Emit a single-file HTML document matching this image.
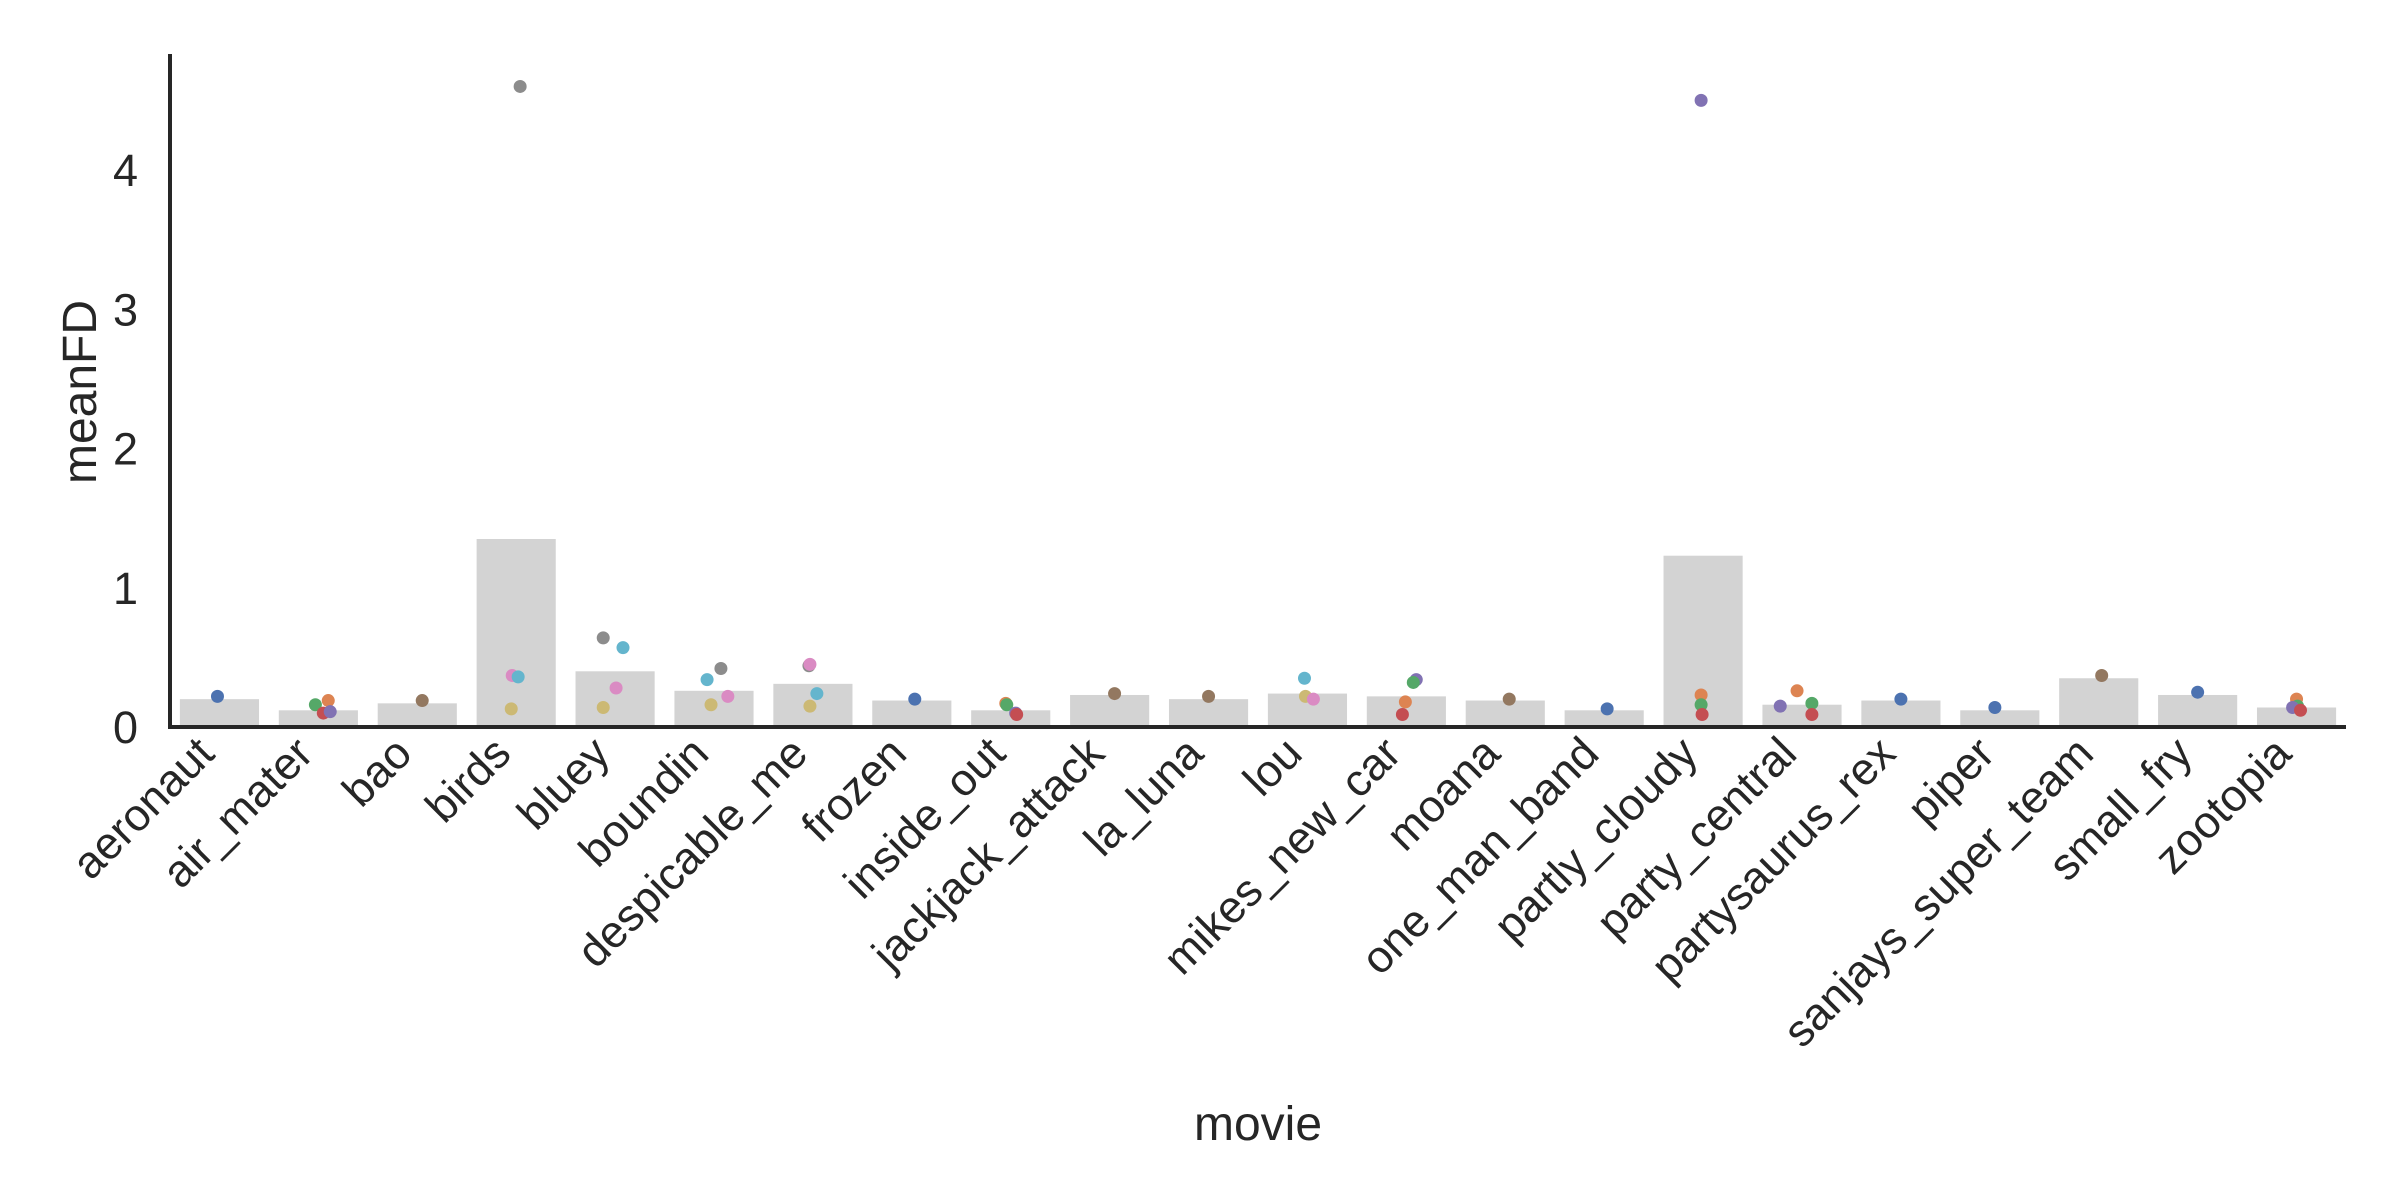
<!DOCTYPE html>
<html><head><meta charset="utf-8"><style>
html,body{margin:0;padding:0;background:#fff;}
svg{display:block;font-family:"Liberation Sans","DejaVu Sans",sans-serif;}
</style></head><body>
<svg id="chart" width="2400" height="1200" viewBox="0 0 2400 1200" xmlns="http://www.w3.org/2000/svg"></svg>
<script>
const categories=["aeronaut","air_mater","bao","birds","bluey","boundin","despicable_me","frozen","inside_out","jackjack_attack","la_luna","lou","mikes_new_car","moana","one_man_band","partly_cloudy","party_central","partysaurus_rex","piper","sanjays_super_team","small_fry","zootopia"];
const barValues=[0.20,0.12,0.17,1.35,0.40,0.26,0.31,0.19,0.12,0.23,0.20,0.24,0.22,0.19,0.12,1.23,0.16,0.19,0.12,0.35,0.23,0.14];
const pointMovie=[0,1,1,1,1,2,3,3,3,3,4,4,4,4,5,5,5,5,6,6,6,6,7,8,8,8,8,9,10,11,11,11,12,12,12,12,13,14,15,15,15,15,16,16,16,16,17,18,19,20,21,21,21,21];
const pointValues=[0.22,0.19,0.16,0.10,0.11,0.19,4.60,0.37,0.36,0.13,0.64,0.57,0.28,0.14,0.42,0.34,0.22,0.16,0.44,0.45,0.24,0.15,0.20,0.17,0.16,0.10,0.09,0.24,0.22,0.35,0.22,0.20,0.34,0.32,0.18,0.09,0.20,0.13,4.50,0.23,0.16,0.09,0.26,0.15,0.17,0.09,0.20,0.14,0.37,0.25,0.20,0.15,0.14,0.12];
const pointColor=["#4c72b0","#dd8452","#55a868","#c44e52","#8172b3","#937860","#8c8c8c","#da8bc3","#64b5cd","#ccb974","#8c8c8c","#64b5cd","#da8bc3","#ccb974","#8c8c8c","#64b5cd","#da8bc3","#ccb974","#8c8c8c","#da8bc3","#64b5cd","#ccb974","#4c72b0","#dd8452","#55a868","#8172b3","#c44e52","#937860","#937860","#64b5cd","#ccb974","#da8bc3","#8172b3","#55a868","#dd8452","#c44e52","#937860","#4c72b0","#8172b3","#dd8452","#55a868","#c44e52","#dd8452","#8172b3","#55a868","#c44e52","#4c72b0","#4c72b0","#937860","#4c72b0","#dd8452","#55a868","#8172b3","#c44e52"];
const pointJitter=[-0.02,0.1,-0.03,0.05,0.12,0.05,0.04,-0.04,0.02,-0.05,-0.12,0.08,0.01,-0.12,0.07,-0.07,0.14,-0.03,-0.04,-0.03,0.04,-0.03,0.03,-0.05,-0.04,0.05,0.06,0.05,0.0,-0.03,-0.02,0.06,0.1,0.07,-0.01,-0.04,0.04,0.03,-0.02,-0.02,-0.02,-0.01,-0.05,-0.22,0.1,0.1,0.0,-0.05,0.03,0.0,0.0,0.01,-0.04,0.04];
const yTicks=[0,1,2,3,4];

const svg=document.getElementById('chart');
const NS='http://www.w3.org/2000/svg';
const L=170,R=2346,B=727,T=54,unit=139.25;
const step=(R-L)/categories.length;
function xScale(i){return L+step*(i+0.5);}
function yScale(v){return B-v*unit;}
function mk(tag,attrs,parent){const e=document.createElementNS(NS,tag);for(const k in attrs)e.setAttribute(k,attrs[k]);(parent||svg).appendChild(e);return e;}

const gBars=mk('g',{});


barValues.forEach((v,i)=>{
  const r=mk('rect',{x:xScale(i)-step*0.4,y:yScale(v),width:step*0.8,height:B-yScale(v),fill:'#d3d3d3'},gBars);
  
  
});
const gPts=mk('g',{});


pointValues.forEach((v,i)=>{
  const c=mk('circle',{cx:xScale(pointMovie[i]+pointJitter[i]),cy:yScale(v),r:6.5,fill:pointColor[i]},gPts);
  
  
});
const ya=mk('line',{x1:L,y1:T,x2:L,y2:B+2,stroke:'#262626','stroke-width':4});


const xa=mk('line',{x1:L-2,y1:B,x2:R,y2:B,stroke:'#262626','stroke-width':4});


yTicks.forEach(t=>{
  const tx=mk('text',{x:138,y:yScale(t)+16,'text-anchor':'end','font-size':45,fill:'#262626'});
  tx.textContent=String(t);
  
  
});
categories.forEach((c,i)=>{
  const x=xScale(i)-3,y=756;
  const tx=mk('text',{x:x,y:y,'text-anchor':'end','font-size':45,fill:'#262626',transform:`rotate(-45 ${x} ${y})`});
  tx.textContent=c;
  
  
});
const xt=mk('text',{x:1258,y:1140,'text-anchor':'middle','font-size':48,fill:'#262626'});
xt.textContent='movie';


const yt=mk('text',{x:96,y:392,'text-anchor':'middle','font-size':48,fill:'#262626',transform:'rotate(-90 96 392)'});
yt.textContent='meanFD';


</script>
</body></html>
